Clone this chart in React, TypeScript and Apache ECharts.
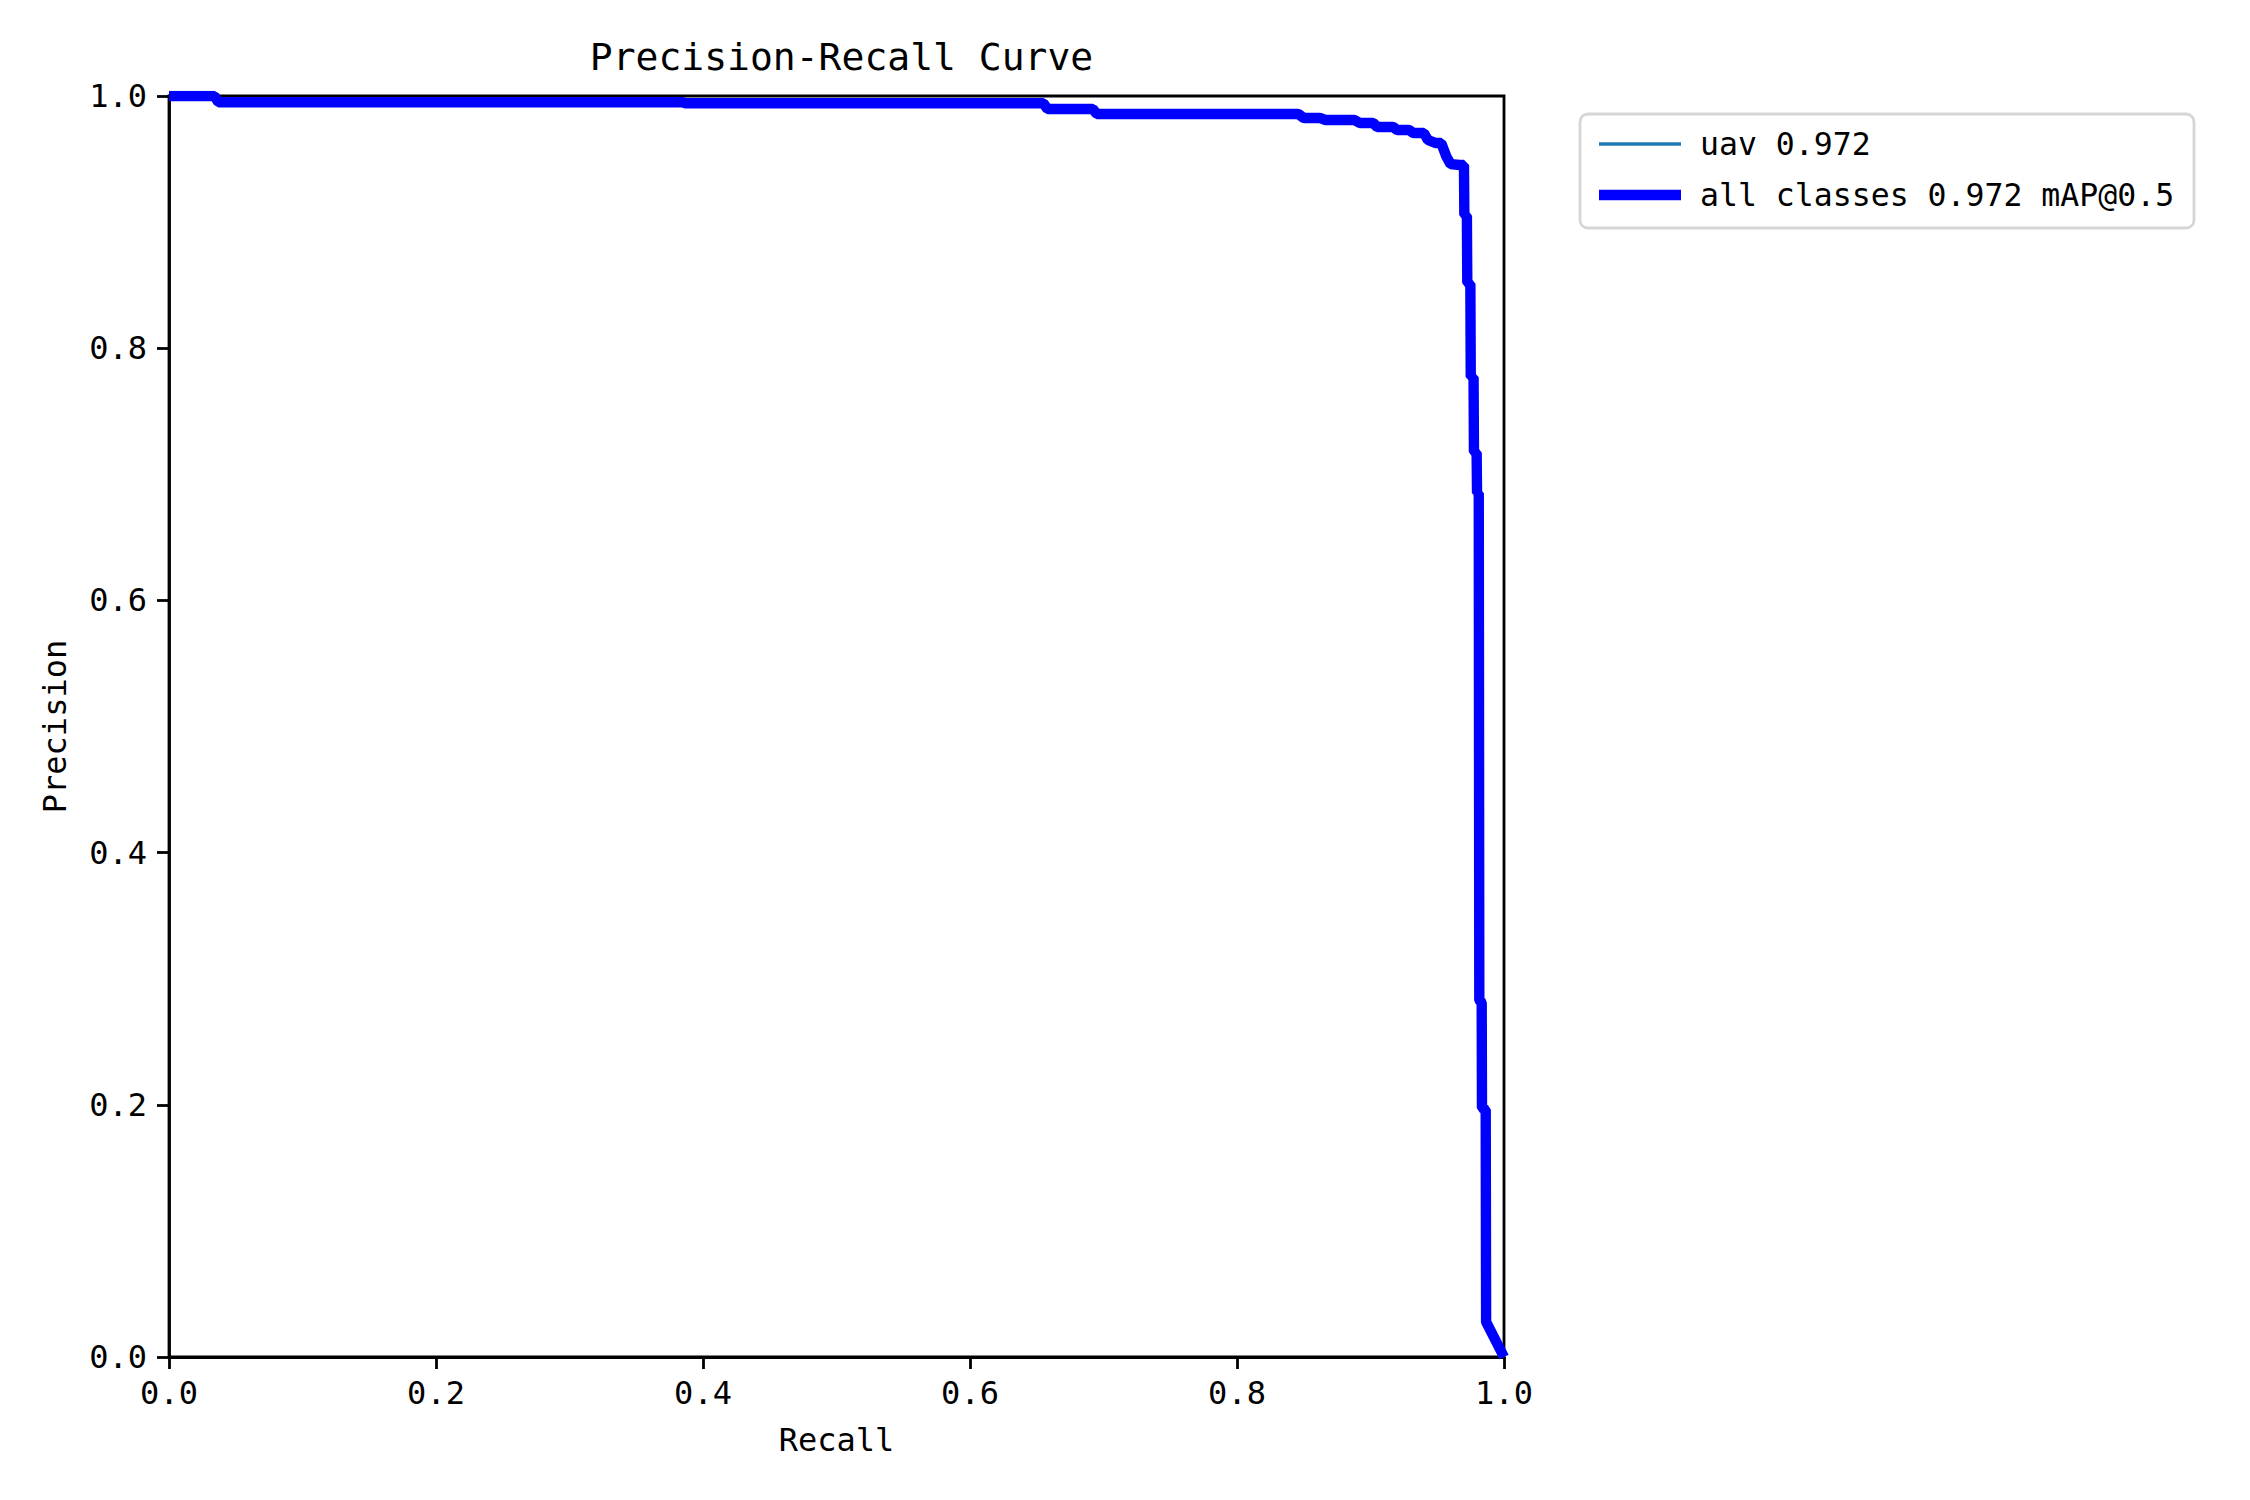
import { useEffect, useRef } from "react";
import * as echarts from "echarts";

// PR curve points (recall, precision)
const recall = [
  0, 0.034, 0.037, 0.385, 0.387, 0.655, 0.658, 0.692, 0.695, 0.846, 0.85,
  0.862, 0.866, 0.888, 0.892, 0.902, 0.905, 0.917, 0.92, 0.929, 0.932, 0.94,
  0.943, 0.949, 0.953, 0.957, 0.96, 0.967, 0.97, 0.9703, 0.9722, 0.9725,
  0.9748, 0.9751, 0.9772, 0.9775, 0.9795, 0.9798, 0.9811, 0.9815, 0.9833,
  0.9835, 0.9863, 0.9866, 1.0,
];
const precision = [
  1.0, 1.0, 0.995, 0.995, 0.9942, 0.9942, 0.9897, 0.9897, 0.9857, 0.9857,
  0.9826, 0.9826, 0.981, 0.981, 0.9786, 0.9786, 0.9754, 0.9754, 0.973, 0.973,
  0.9707, 0.9707, 0.9651, 0.9627, 0.9627, 0.9516, 0.946, 0.9453, 0.9453,
  0.9056, 0.905, 0.8517, 0.851, 0.7772, 0.777, 0.7177, 0.717, 0.6852, 0.685,
  0.283, 0.281, 0.1975, 0.196, 0.0278, 0.0,
];

const seriesNames = ["uav 0.972", "all classes 0.972 mAP@0.5"];
const seriesColors = ["#1f77b4", "#0000ff"];
const axisTicks = [0, 0.2, 0.4, 0.6, 0.8, 1.0];

const FONT = "DejaVu Sans Mono";

export default function App() {
  const chartRef = useRef<HTMLDivElement>(null);

  useEffect(() => {
    document.body.style.margin = "0";
    if (!chartRef.current) return;

    const chart = echarts.init(chartRef.current, null, { renderer: "svg" });
    const points = recall.map((r, i) => [r, precision[i]]);

    // plot box in pixels
    const left = 169;
    const top = 96;
    const right = 1504;
    const bottom = 1357;

    chart.setOption({
      animation: false,
      backgroundColor: "#ffffff",
      textStyle: { fontFamily: FONT, color: "#000" },
      title: {
        text: "Precision-Recall Curve",
        left: (left + right) / 2,
        top: 33,
        textAlign: "center",
        textStyle: {
          fontFamily: FONT,
          fontSize: 38,
          fontWeight: "normal",
          color: "#000",
        },
      },
      grid: {
        left,
        top,
        width: right - left,
        height: bottom - top,
        show: true,
        borderColor: "#000",
        borderWidth: 2.8,
        backgroundColor: "transparent",
      },
      xAxis: {
        type: "value",
        min: axisTicks[0],
        max: axisTicks[axisTicks.length - 1],
        interval: 0.2,
        name: "Recall",
        nameLocation: "middle",
        nameGap: 67,
        nameTextStyle: { fontFamily: FONT, fontSize: 32, color: "#000" },
        axisLine: { show: true, onZero: false, lineStyle: { color: "#000", width: 2.8 } },
        axisTick: { show: true, length: 12, lineStyle: { color: "#000", width: 2.8 } },
        axisLabel: {
          margin: 20,
          fontFamily: FONT,
          fontSize: 32,
          color: "#000",
          formatter: (v: number) => v.toFixed(1),
        },
        splitLine: { show: false },
      },
      yAxis: {
        type: "value",
        min: axisTicks[0],
        max: axisTicks[axisTicks.length - 1],
        interval: 0.2,
        name: "Precision",
        nameLocation: "middle",
        nameGap: 98,
        nameTextStyle: { fontFamily: FONT, fontSize: 32, color: "#000" },
        axisLine: { show: true, onZero: false, lineStyle: { color: "#000", width: 2.8 } },
        axisTick: { show: true, length: 12, lineStyle: { color: "#000", width: 2.8 } },
        axisLabel: {
          margin: 22,
          fontFamily: FONT,
          fontSize: 32,
          color: "#000",
          formatter: (v: number) => v.toFixed(1),
        },
        splitLine: { show: false },
      },
      series: [
        {
          name: seriesNames[0],
          type: "line",
          data: points,
          showSymbol: false,
          symbol: "none",
          clip: true,
          lineStyle: { color: seriesColors[0], width: 3.5 },
          z: 2,
        },
        {
          name: seriesNames[1],
          type: "line",
          data: points,
          showSymbol: false,
          symbol: "none",
          clip: true,
          lineStyle: { color: seriesColors[1], width: 10.4 },
          z: 3,
        },
      ],
      // matplotlib-style legend box outside the axes
      graphic: [
        {
          type: "rect",
          shape: { x: 1580, y: 114, width: 614, height: 114, r: 8 },
          style: { fill: "#ffffff", stroke: "#d6d6d6", lineWidth: 2.8 },
        },
        {
          type: "line",
          shape: { x1: 1599, y1: 144, x2: 1681, y2: 144 },
          style: { stroke: seriesColors[0], lineWidth: 3.5 },
        },
        {
          type: "line",
          shape: { x1: 1599, y1: 195, x2: 1681, y2: 195 },
          style: { stroke: seriesColors[1], lineWidth: 10.4 },
        },
        {
          type: "text",
          x: 1700,
          y: 144,
          style: {
            text: seriesNames[0],
            font: `31.5px "${FONT}"`,
            fill: "#000",
            textVerticalAlign: "middle",
          },
        },
        {
          type: "text",
          x: 1700,
          y: 195,
          style: {
            text: seriesNames[1],
            font: `31.5px "${FONT}"`,
            fill: "#000",
            textVerticalAlign: "middle",
          },
        },
      ],
    });

    return () => {
      chart.dispose();
    };
  }, []);

  return <div ref={chartRef} style={{ width: "2250px", height: "1500px" }} />;
}
